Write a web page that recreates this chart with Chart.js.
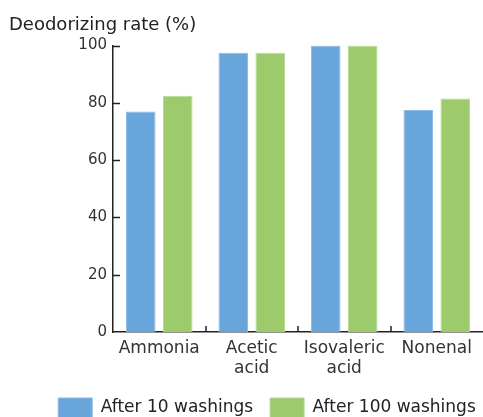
<!DOCTYPE html>
<html>
<head>
<meta charset="utf-8">
<script src="https://cdn.jsdelivr.net/npm/chart.js@4.4.0/dist/chart.umd.min.js"></script>
<style>
  html, body { margin: 0; padding: 0; background: #ffffff; }
  #wrap { width: 483px; height: 417px; position: relative; }
</style>
</head>
<body>
<div id="wrap"><canvas id="chart"></canvas></div>
<script>
// Odor types tested (multi-line labels as printed under the axis)
const categories = [['Ammonia'], ['Acetic', 'acid'], ['Isovaleric', 'acid'], ['Nonenal']];
// Deodorizing rate (%) per odor
const after10Washings = [77, 97.5, 100, 77.5];
const after100Washings = [82.5, 97.5, 100, 81.5];
const seriesNames = ['After 10 washings', 'After 100 washings'];
const yTickValues = [0, 20, 40, 60, 80, 100];
const axisTitle = 'Deodorizing rate (%)';

const FONT = "'DejaVu Sans', sans-serif";
const INK = '#222222';

// Short inward tick marks on both axes
const innerTicks = {
  id: 'innerTicks',
  afterDatasetsDraw(chart) {
    const { ctx, chartArea, scales: { x, y } } = chart;
    ctx.save();
    ctx.strokeStyle = INK;
    ctx.lineWidth = 1.5;
    ctx.beginPath();
    y.ticks.forEach((t, i) => {
      if (t.value === 0) return;
      const py = Math.round(y.getPixelForTick(i)) + 0.5;
      ctx.moveTo(chartArea.left, py);
      ctx.lineTo(chartArea.left + 7, py);
    });
    for (let i = 1; i < x.ticks.length; i++) {
      const px = Math.round((x.getPixelForTick(i - 1) + x.getPixelForTick(i)) / 2);
      ctx.moveTo(px, chartArea.bottom);
      ctx.lineTo(px, chartArea.bottom - 6);
    }
    ctx.stroke();
    ctx.restore();
  }
};

// Let the two-line category labels overlap the legend band,
// and place the legend row under them
const bottomBand = {
  id: 'bottomBand',
  afterLayout(chart) {
    const x = chart.scales.x;
    x.bottom += 30;
    x.height += 30;
    const lg = chart.legend;
    if (!lg) return;
    const dx = 21, dy = 11;
    lg.left += dx;
    lg.right += dx;
    lg.top += dy;
    lg.bottom += dy;
  }
};

new Chart(document.getElementById('chart'), {
  type: 'bar',
  data: {
    labels: categories,
    datasets: [
      {
        label: seriesNames[0],
        data: after10Washings,
        backgroundColor: '#68a5da',
        borderColor: '#8dbbe6',
        borderWidth: 1
      },
      {
        label: seriesNames[1],
        data: after100Washings,
        backgroundColor: '#9dcb6c',
        borderColor: '#b6da90',
        borderWidth: 1
      }
    ]
  },
  options: {
    responsive: true,
    maintainAspectRatio: false,
    animation: false,
    devicePixelRatio: 1,
    layout: { padding: { left: 9, right: 0, top: 0, bottom: 0 } },
    categoryPercentage: 0.8,
    barPercentage: 0.8,
    scales: {
      x: {
        grid: { display: false, drawTicks: false },
        border: { display: true, color: INK, width: 1.5 },
        ticks: {
          color: '#333333',
          font: { family: FONT, size: 17 },
          padding: 6,
          maxRotation: 0,
          autoSkip: false
        },
        afterFit(scale) { scale.height = 38; }
      },
      y: {
        min: 0,
        max: 100,
        afterBuildTicks(scale) { scale.ticks = yTickValues.map(v => ({ value: v })); },
        grid: { display: false, drawTicks: false },
        border: { display: true, color: INK, width: 1.5 },
        ticks: {
          color: '#333333',
          font: { family: FONT, size: 15 },
          padding: 6
        },
        afterFit(scale) { scale.width = 104; }
      }
    },
    plugins: {
      title: {
        display: true,
        text: axisTitle,
        align: 'start',
        color: '#222222',
        font: { family: FONT, size: 18, weight: 'normal' },
        padding: { top: 15, bottom: 9 }
      },
      legend: {
        position: 'bottom',
        align: 'center',
        labels: {
          boxWidth: 34,
          boxHeight: 20,
          padding: 17,
          color: '#222222',
          font: { family: FONT, size: 17 },
          useBorderRadius: false
        }
      },
      tooltip: { enabled: false }
    }
  },
  plugins: [innerTicks, bottomBand]
});
</script>
</body>
</html>
